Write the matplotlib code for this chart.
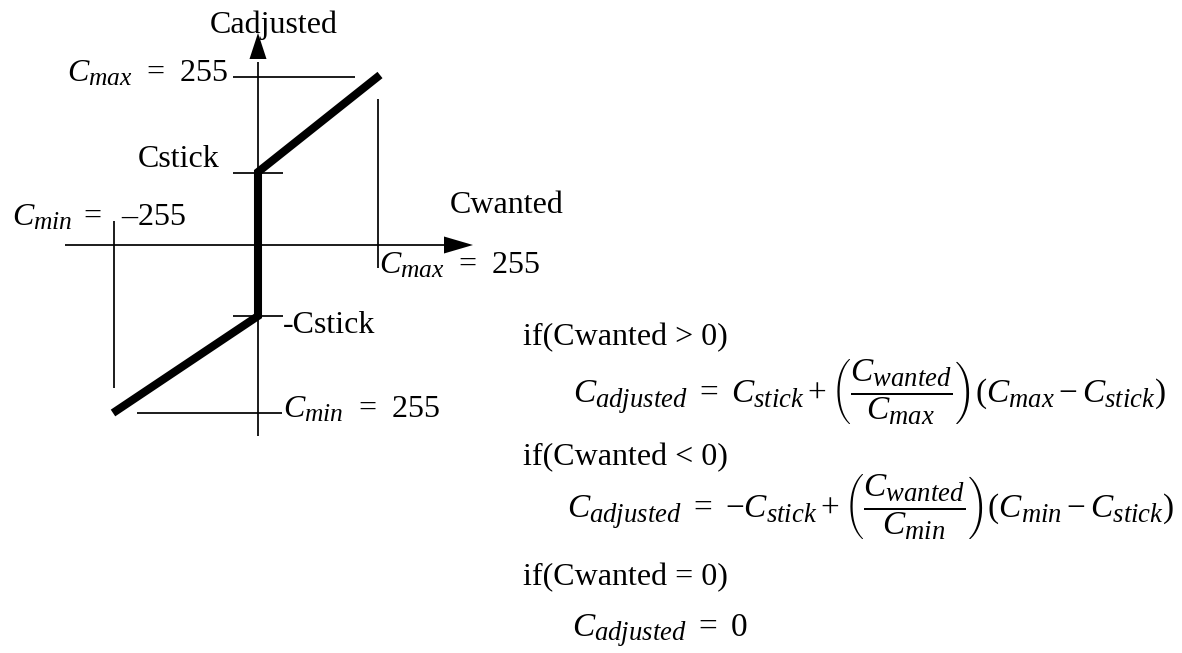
import matplotlib
matplotlib.use("Agg")
import matplotlib.pyplot as plt
import matplotlib._mathtext as _mt
import numpy as np

# larger sub/superscripts, like the reference typesetting
_mt.SHRINK_FACTOR = 0.8

plt.rcParams['font.family'] = ['Liberation Serif', 'DejaVu Serif']
plt.rcParams['mathtext.fontset'] = 'custom'
plt.rcParams['mathtext.rm'] = 'Liberation Serif'
plt.rcParams['mathtext.it'] = 'Liberation Serif:italic'
plt.rcParams['mathtext.bf'] = 'Liberation Serif:bold'

# ---- diagram data (diagram units, origin at axis crossing, y up) ----
curve_wanted = [-145, 0, 0, 122]       # Cmin, 0, 0, Cmax
curve_adjusted = [-168, -71, 73, 170]   # Cmin, -Cstick, Cstick, Cmax

x_axis_range = [-193, 215]   # horizontal axis (Cwanted) start, arrow tip
y_axis_range = [-191, 212]   # vertical axis (Cadjusted) start, arrow tip

# guide lines: (x0, x1, y0, y1)
guide_h_cmax = [-25, 97, 168, 168]
guide_h_cstick = [-25, 25, 72, 72]
guide_h_mcstick = [-25, 25, -71, -71]
guide_h_cmin = [-121, 24, -168, -168]
guide_v_cmax = [119.5, 119.5, 146, -23]
guide_v_cmin = [-144, -144, 24, -143]

labels = [
    ("Cadjusted", 210, 33),
    (r"$C_{max}\;\,=\;\,255$", 67, 82),
    ("Cstick", 138, 167),
    (r"$C_{min}\;=\ \ $–255", 12, 225),
    ("Cwanted", 450, 213),
    (r"$C_{max}\;\,=\;\,255$", 379, 273),
    ("-Cstick", 283, 333),
    (r"$C_{min}\;\,=\;\,255$", 283, 417),
]

conditions = [
    ("if(Cwanted > 0)", 523, 345),
    ("if(Cwanted < 0)", 523, 465),
    ("if(Cwanted = 0)", 523, 585),
]

equations = [
    (r"$C_{adjusted}\ =\ C_{stick} + \left(\dfrac{C_{wanted}}{C_{max}}\right)(C_{max} - C_{stick})$", 573, 403),
    (r"$C_{adjusted}\ =\ {-}C_{stick} + \left(\dfrac{C_{wanted}}{C_{min}}\right)(C_{min} - C_{stick})$", 567, 518),
    (r"$C_{adjusted}\ =\ 0$", 572, 637),
]

ORIGIN = (258, 245)
W, H = 1182, 653

fig = plt.figure(figsize=(W / 100, H / 100), dpi=100)
ax = fig.add_axes([0, 0, 1, 1])
ax.set_xlim(0, W)
ax.set_ylim(H, 0)
ax.axis('off')


def tx(x):
    return ORIGIN[0] + np.asarray(x, dtype=float)


def ty(y):
    return ORIGIN[1] - np.asarray(y, dtype=float)


thin = 1.25
head_len, head_hw = 29, 8.5

# horizontal axis
ax.plot(tx([x_axis_range[0], x_axis_range[1] - head_len]), ty([0, 0]),
        color='black', lw=thin, solid_capstyle='butt')
tip = x_axis_range[1]
ax.fill(tx([tip, tip - head_len, tip - head_len]), ty([0, head_hw, -head_hw]),
        color='black', lw=0)
# vertical axis
ax.plot(tx([0, 0]), ty([y_axis_range[0], y_axis_range[1] - head_len]),
        color='black', lw=thin, solid_capstyle='butt')
tip = y_axis_range[1]
ax.fill(tx([0, head_hw, -head_hw]), ty([tip, tip - 26, tip - 26]),
        color='black', lw=0)

for g in [guide_h_cmax, guide_h_cstick, guide_h_mcstick, guide_h_cmin,
          guide_v_cmax, guide_v_cmin]:
    ax.plot(tx(g[:2]), ty(g[2:]), color='black', lw=thin, solid_capstyle='butt')

ax.plot(tx(curve_wanted), ty(curve_adjusted), color='black', lw=5.8,
        solid_capstyle='butt', solid_joinstyle='miter')

for s, x, y in labels + conditions:
    ax.text(x, y, s, fontsize=23, ha='left', va='baseline', color='black')
for s, x, y in equations:
    ax.text(x, y, s, fontsize=24, ha='left', va='baseline', color='black')

fig.savefig("out.png", dpi=100)
